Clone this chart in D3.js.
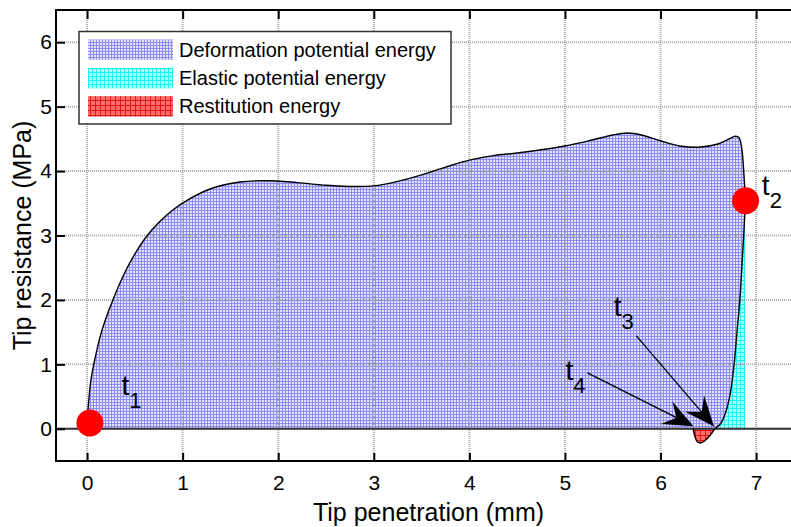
<!DOCTYPE html>
<html><head><meta charset="utf-8">
<script src="https://cdn.jsdelivr.net/npm/d3@7"></script>
<style>body{margin:0;background:#fff}svg{display:block}text{font-family:"Liberation Sans",Arial,sans-serif;fill:#000}</style>
</head><body><svg id="c" width="791" height="527"></svg>
<script>
// ---- data ----
const loadX = [0.0,0.01,0.04,0.07,0.15,0.27,0.42,0.52,0.62,0.75,0.9,1.05,1.3,1.6,1.9,2.2,2.5,2.8,3.0,3.25,3.5,3.75,4.0,4.25,4.5,4.75,5.0,5.25,5.5,5.65,5.8,6.0,6.2,6.4,6.6,6.72,6.78,6.82,6.85,6.87,6.885];
const loadY = [0.05,0.3,0.75,1.0,1.5,2.0,2.5,2.76,2.98,3.2,3.4,3.55,3.73,3.83,3.85,3.82,3.78,3.76,3.77,3.84,3.94,4.06,4.17,4.24,4.28,4.33,4.39,4.47,4.56,4.59,4.56,4.47,4.39,4.37,4.42,4.5,4.54,4.52,4.35,4.0,3.55];
const unloadX = [6.885,6.88,6.87,6.85,6.83,6.80,6.77,6.73,6.68,6.63,6.57];
const unloadY = [3.55,3.3,3.0,2.5,2.0,1.5,1.0,0.55,0.25,0.08,0.0];
const restX = [6.57,6.52,6.46,6.42,6.385,6.36,6.345,6.34];
const restY = [0.0,-0.1,-0.19,-0.22,-0.2,-0.12,-0.03,0.0];
const xTicks = [0,1,2,3,4,5,6,7];
const yTicks = [0,1,2,3,4,5,6];
const legendLabels = ["Deformation potential energy","Elastic potential energy","Restitution energy"];
const markers = [{x:0.03,y:0.09},{x:6.89,y:3.54}];
const labels = [{t:"t",s:"1",x:0.36,y:0.53},{t:"t",s:"2",x:7.06,y:3.63},{t:"t",s:"3",x:5.51,y:1.745},{t:"t",s:"4",x:5.005,y:0.764}];
const arrows = [{x1:5.745,y1:1.447,x2:6.56,y2:0.035},{x1:5.235,y1:0.868,x2:6.345,y2:0.04}];
const xLabel = "Tip penetration (mm)", yLabel = "Tip resistance (MPa)";

// ---- layout ----
const svg = d3.select("#c");
const L=56,T=10,R=791,B=461;
const x = d3.scaleLinear().domain([-0.325,7.365]).range([L,R]);
const y = d3.scaleLinear().domain([-0.5,6.5]).range([B,T]);

// patterns
const defs = svg.append("defs");
function pat(id,size,bg,line){
  const p = defs.append("pattern").attr("id",id).attr("patternUnits","userSpaceOnUse").attr("width",size).attr("height",size);
  p.append("rect").attr("width",size).attr("height",size).attr("fill",bg);
  p.append("rect").attr("width",size).attr("height",1).attr("fill",line);
  p.append("rect").attr("width",1).attr("height",size).attr("fill",line);
}
pat("pBlue",3,"#e2e2ff","#8e8ef2");
pat("pCyan",4,"#a8ffff","#22eeee");
pat("pRed",5,"#ff6c6c","#e01818");
const fills = ["url(#pBlue)","url(#pCyan)","url(#pRed)"];

const zip = (a,b)=>a.map((v,i)=>[v,b[i]]);
const loadPts = zip(loadX,loadY), unPts = zip(unloadX,unloadY), restPts = zip(restX,restY);
const line = d3.line().x(d=>x(d[0])).y(d=>y(d[1])).curve(d3.curveCatmullRom.alpha(0.5));

// blue: loading + unloading, closed along y=0
const bluePts = loadPts.concat(unPts.slice(1));
svg.append("path").attr("d", line(bluePts)+"L"+x(0)+","+y(0)+"Z").attr("fill",fills[0]);
// cyan: between unloading curve and vertical at max penetration
svg.append("path").attr("d", line(unPts)+"L"+x(unloadX[0])+","+y(0)+"Z").attr("fill",fills[1]);
// red
svg.append("path").attr("d", line(restPts)+"Z").attr("fill",fills[2]);

// grid
const g = svg.append("g").attr("stroke","#999").attr("stroke-width",2).attr("stroke-dasharray","1,1").attr("opacity",0.8);
g.selectAll("line.v").data(xTicks).join("line").attr("x1",d=>x(d)).attr("x2",d=>x(d)).attr("y1",T).attr("y2",B);
g.selectAll("line.h").data(yTicks).join("line").attr("x1",L).attr("x2",R).attr("y1",d=>y(d)).attr("y2",d=>y(d));

// zero line
svg.append("line").attr("x1",L).attr("x2",R).attr("y1",y(0)).attr("y2",y(0)).attr("stroke","#333").attr("stroke-width",2);

// curve
svg.append("path").attr("d", line(loadPts.concat(unPts.slice(1)).concat(restPts.slice(1)))).attr("fill","none").attr("stroke","#000").attr("stroke-width",1.4);

// axes
function styleAxis(sel){ sel.select(".domain").remove(); sel.selectAll(".tick line").attr("stroke","#000").attr("stroke-width",2);
  sel.selectAll("text").style("font-size","21px").attr("fill","#000"); }
svg.append("g").attr("transform",`translate(${L},0)`).call(d3.axisLeft(y).tickValues(yTicks).tickSize(-9).tickPadding(4).tickFormat(d3.format("d"))).call(styleAxis);
svg.append("g").attr("transform",`translate(0,${B})`).call(d3.axisBottom(x).tickValues(xTicks).tickSize(-8).tickPadding(14).tickFormat(d3.format("d"))).call(styleAxis);
svg.append("g").attr("transform",`translate(0,${T})`).call(d3.axisTop(x).tickValues(xTicks).tickSize(-9).tickFormat("")).call(styleAxis);
// frame
svg.append("path").attr("d",`M${R},${T}H${L}V${B}H${R}`).attr("fill","none").attr("stroke","#000").attr("stroke-width",2);

// axis titles
svg.append("text").attr("x",(L+R)/2+5).attr("y",521).attr("text-anchor","middle").style("font-size","25px").text(xLabel);
svg.append("text").attr("transform",`translate(31,${(T+B)/2}) rotate(-90)`).attr("text-anchor","middle").style("font-size","25px").text(yLabel);

// arrows
arrows.forEach(a=>{
  const X1=x(a.x1),Y1=y(a.y1),X2=x(a.x2),Y2=y(a.y2);
  const dx=X2-X1,dy=Y2-Y1,len=Math.hypot(dx,dy),ux=dx/len,uy=dy/len,px=-uy,py=ux;
  const Lh=30,W=12.5,N=19;
  svg.append("line").attr("x1",X1).attr("y1",Y1).attr("x2",X2-ux*N).attr("y2",Y2-uy*N).attr("stroke","#000").attr("stroke-width",1.3);
  const bx=X2-ux*Lh,by=Y2-uy*Lh;
  svg.append("path").attr("d",`M${X2},${Y2}L${bx+px*W},${by+py*W}L${X2-ux*N},${Y2-uy*N}L${bx-px*W},${by-py*W}Z`).attr("fill","#000");
});

// markers
svg.selectAll("circle.m").data(markers).join("circle").attr("cx",d=>x(d.x)).attr("cy",d=>y(d.y)).attr("r",13.5).attr("fill","#ff0000");

// t labels
labels.forEach(l=>{
  const t = svg.append("text").attr("x",x(l.x)).attr("y",y(l.y)).style("font-size","28px");
  t.append("tspan").text(l.t);
  t.append("tspan").attr("dy",13).style("font-size","22px").text(l.s);
});

// legend
const lg = svg.append("g");
lg.append("rect").attr("x",79).attr("y",31.5).attr("width",372).attr("height",92.5).attr("fill","#fff").attr("stroke","#333").attr("stroke-width",1.5);
legendLabels.forEach((s,i)=>{
  lg.append("rect").attr("x",88).attr("y",39.5+i*28.3).attr("width",85).attr("height",20.5).attr("fill",fills[i]);
  lg.append("text").attr("x",179).attr("y",56.5+i*28.3).style("font-size","20px").text(s);
});
</script></body></html>
